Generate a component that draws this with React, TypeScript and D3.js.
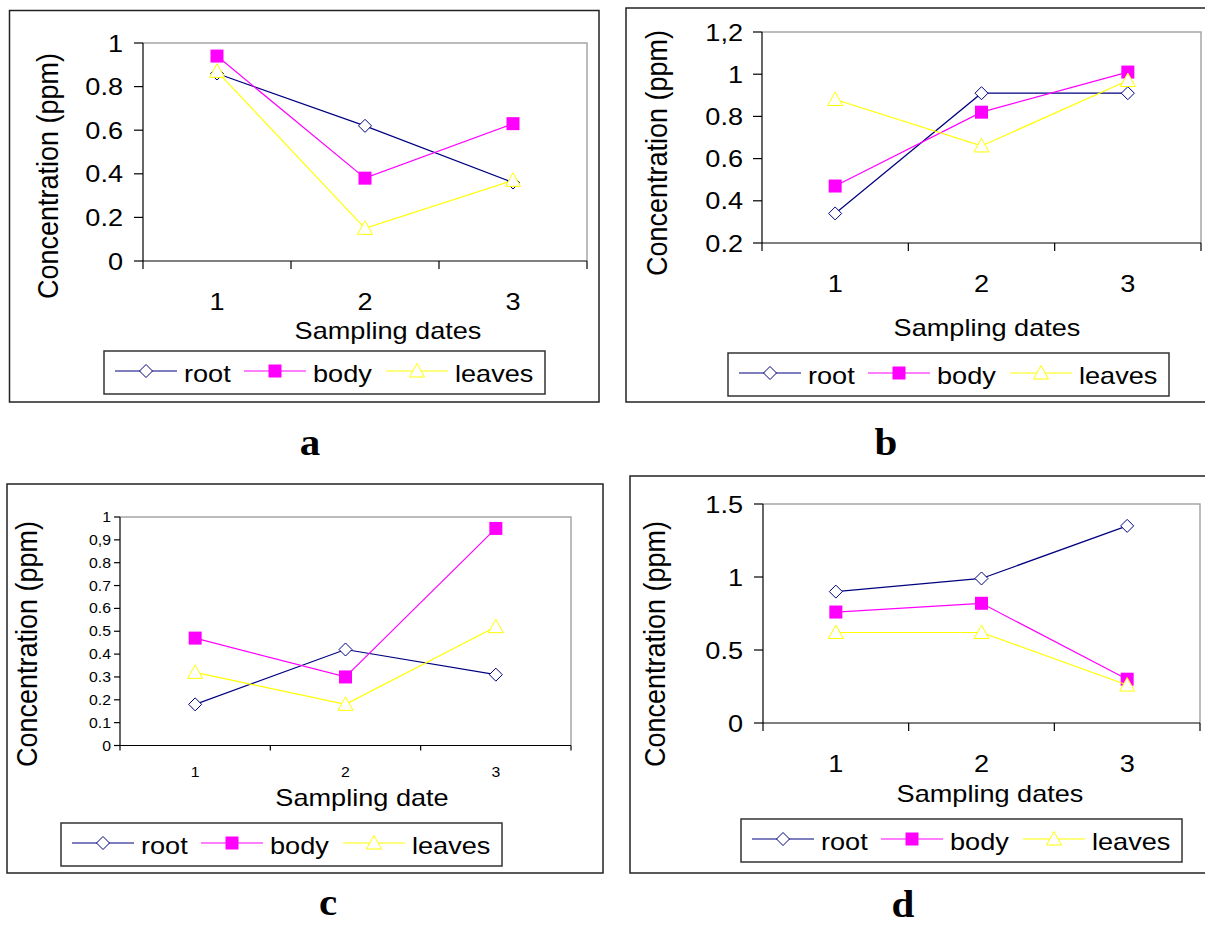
import * as d3 from 'd3';

// sampling dates on the x axis
const categories = ['1', '2', '3'];
const seriesNames = ['root', 'body', 'leaves'];

// panel a
const aRoot = [0.86, 0.62, 0.36];
const aBody = [0.94, 0.38, 0.63];
const aLeaves = [0.87, 0.15, 0.37];
const aTicks = [0, 0.2, 0.4, 0.6, 0.8, 1];
const aTickLabels = ['0', '0.2', '0.4', '0.6', '0.8', '1'];

// panel b
const bRoot = [0.34, 0.91, 0.91];
const bBody = [0.47, 0.82, 1.01];
const bLeaves = [0.88, 0.66, 0.97];
const bTicks = [0.2, 0.4, 0.6, 0.8, 1, 1.2];
const bTickLabels = ['0.2', '0.4', '0.6', '0.8', '1', '1,2'];

// panel c
const cRoot = [0.18, 0.42, 0.31];
const cBody = [0.47, 0.3, 0.95];
const cLeaves = [0.32, 0.18, 0.52];
const cTicks = [0, 0.1, 0.2, 0.3, 0.4, 0.5, 0.6, 0.7, 0.8, 0.9, 1];
const cTickLabels = ['0', '0.1', '0.2', '0.3', '0.4', '0.5', '0.6', '0.7', '0.8', '0,9', '1'];

// panel d
const dRoot = [0.9, 0.99, 1.35];
const dBody = [0.76, 0.82, 0.3];
const dLeaves = [0.62, 0.62, 0.26];
const dTicks = [0, 0.5, 1, 1.5];
const dTickLabels = ['0', '0.5', '1', '1.5'];

const FONT = "'Liberation Sans', Arial, sans-serif";
const SERIF = "'Liberation Serif', 'Times New Roman', serif";
const SX = 1.13;
const colors = ['#000080', '#ff00ff', '#ffff00'];
const kinds = ['diamond', 'square', 'triangle'];

const panels = [
  {
    letter: 'a', series: [aRoot, aBody, aLeaves], ticks: aTicks, tickLabels: aTickLabels,
    frame: [9.5, 10.5, 599, 402], plot: [143, 43, 587, 261], domain: [0, 1],
    tickFont: 24, tickLen: 9, yLabelRight: 123, xLabelY: 310, xTickLen: 8,
    xTitle: 'Sampling dates', xTitleX: 388, xTitleY: 339, yTitleX: 58, yTitleY: 176,
    legend: [104, 351], letterX: 310, letterY: 455,
  },
  {
    letter: 'b', series: [bRoot, bBody, bLeaves], ticks: bTicks, tickLabels: bTickLabels,
    frame: [626, 8, 1210, 402], plot: [762, 32, 1201, 243], domain: [0.2, 1.2],
    tickFont: 24, tickLen: 9, yLabelRight: 743, xLabelY: 292, xTickLen: 8,
    xTitle: 'Sampling dates', xTitleX: 987, xTitleY: 336, yTitleX: 667, yTitleY: 153,
    legend: [728, 353], letterX: 886, letterY: 455,
  },
  {
    letter: 'c', series: [cRoot, cBody, cLeaves], ticks: cTicks, tickLabels: cTickLabels,
    frame: [7, 484, 603, 873], plot: [120, 517, 571, 745.5], domain: [0, 1],
    tickFont: 14, tickLen: 6, yLabelRight: 111, xLabelY: 777, xTickLen: 5,
    xTitle: 'Sampling date', xTitleX: 362, xTitleY: 806, yTitleX: 37, yTitleY: 644,
    legend: [61, 823], letterX: 328, letterY: 915,
  },
  {
    letter: 'd', series: [dRoot, dBody, dLeaves], ticks: dTicks, tickLabels: dTickLabels,
    frame: [630, 476, 1210, 873], plot: [763, 504, 1200, 723], domain: [0, 1.5],
    tickFont: 24, tickLen: 9, yLabelRight: 743, xLabelY: 772, xTickLen: 8,
    xTitle: 'Sampling dates', xTitleX: 990, xTitleY: 802, yTitleX: 665, yTitleY: 644,
    legend: [741, 819], letterX: 903, letterY: 917,
  },
];

function Txt({ x, y, size, anchor = 'start', sx = SX, family = FONT, weight = 'normal', children }) {
  return (
    <text
      transform={`translate(${x},${y}) scale(${sx},1)`}
      fontFamily={family}
      fontSize={size}
      fontWeight={weight}
      textAnchor={anchor}
      fill="#000"
    >
      {children}
    </text>
  );
}

function Marker({ kind, cx, cy, color }) {
  if (kind === 'diamond') {
    return <path d={`M${cx},${cy - 6.5}L${cx + 6.5},${cy}L${cx},${cy + 6.5}L${cx - 6.5},${cy}Z`} fill="#fff" stroke={color} strokeWidth={1} />;
  }
  if (kind === 'square') {
    return <rect x={cx - 6.5} y={cy - 6.5} width={13} height={13} fill={color} />;
  }
  return <path d={`M${cx},${cy - 7.5}L${cx + 7.5},${cy + 6}L${cx - 7.5},${cy + 6}Z`} fill="#fff" stroke={color} strokeWidth={1} />;
}

function Panel({ p }) {
  const [x0, y0, x1, y1] = p.plot;
  const x = d3.scaleBand().domain(categories).range([x0, x1]).padding(0);
  const y = d3.scaleLinear().domain(p.domain).range([y1, y0]);
  const cx = (c) => x(c) + x.bandwidth() / 2;
  const line = d3.line().x((d, i) => cx(categories[i])).y((d) => y(d));
  const bounds = [...categories.map((c) => x(c)), x1];
  const [fx0, fy0, fx1, fy1] = p.frame;
  const [lx, ly] = p.legend;
  const legendOffsets = [11, 140, 282];

  return (
    <g>
      <rect x={fx0} y={fy0} width={fx1 - fx0} height={fy1 - fy0} fill="none" stroke="#222" strokeWidth={1.5} />

      {/* plot area: gray top / right, black axes */}
      <path d={`M${x0},${y0}H${x1}V${y1}`} fill="none" stroke="#a6a6a6" strokeWidth={1.5} />
      <line x1={x0} x2={x0} y1={y0} y2={y1} stroke="#000" strokeWidth={1.2} />
      <line x1={x0} x2={x1} y1={y1} y2={y1} stroke="#000" strokeWidth={1.2} />

      {p.ticks.map((t, i) => (
        <g key={t}>
          <line x1={x0 - p.tickLen} x2={x0} y1={y(t)} y2={y(t)} stroke="#000" strokeWidth={1.2} />
          <Txt x={p.yLabelRight} y={y(t) + p.tickFont * 0.36} size={p.tickFont} anchor="end">{p.tickLabels[i]}</Txt>
        </g>
      ))}

      {bounds.map((b, i) => (
        <line key={i} x1={b} x2={b} y1={y1} y2={y1 + p.xTickLen} stroke="#000" strokeWidth={1.2} />
      ))}
      {categories.map((c) => (
        <Txt key={c} x={cx(c)} y={p.xLabelY} size={p.tickFont} anchor="middle">{c}</Txt>
      ))}

      <Txt x={p.xTitleX} y={p.xTitleY} size={24} anchor="middle">{p.xTitle}</Txt>
      <text
        transform={`translate(${p.yTitleX},${p.yTitleY}) rotate(-90) scale(1,1.1)`}
        fontFamily={FONT}
        fontSize={27}
        textAnchor="middle"
      >
        Concentration (ppm)
      </text>

      {p.series.map((vals, si) => (
        <g key={si}>
          <path d={line(vals)} fill="none" stroke={colors[si]} strokeWidth={1.2} />
          {vals.map((v, i) => (
            <Marker key={i} kind={kinds[si]} cx={cx(categories[i])} cy={y(v)} color={colors[si]} />
          ))}
        </g>
      ))}

      <rect x={lx} y={ly} width={441} height={43} fill="#fff" stroke="#333" strokeWidth={1.5} />
      {seriesNames.map((name, si) => {
        const sx = lx + legendOffsets[si];
        const yy = ly + 20;
        return (
          <g key={name}>
            <line x1={sx} x2={sx + 62} y1={yy} y2={yy} stroke={colors[si]} strokeWidth={1.2} />
            <Marker kind={kinds[si]} cx={sx + 31} cy={yy} color={colors[si]} />
            <Txt x={sx + 69} y={ly + 31} size={24}>{name}</Txt>
          </g>
        );
      })}

      <Txt x={p.letterX} y={p.letterY} size={38} anchor="middle" family={SERIF} weight="bold" sx={1.08}>{p.letter}</Txt>
    </g>
  );
}

export default function App() {
  return (
    <svg
      width={1205}
      height={926}
      style={{ position: 'absolute', left: 0, top: 0, background: '#fff' }}
    >
      <rect width={1205} height={926} fill="#fff" />
      {panels.map((p) => (
        <Panel key={p.letter} p={p} />
      ))}
    </svg>
  );
}
